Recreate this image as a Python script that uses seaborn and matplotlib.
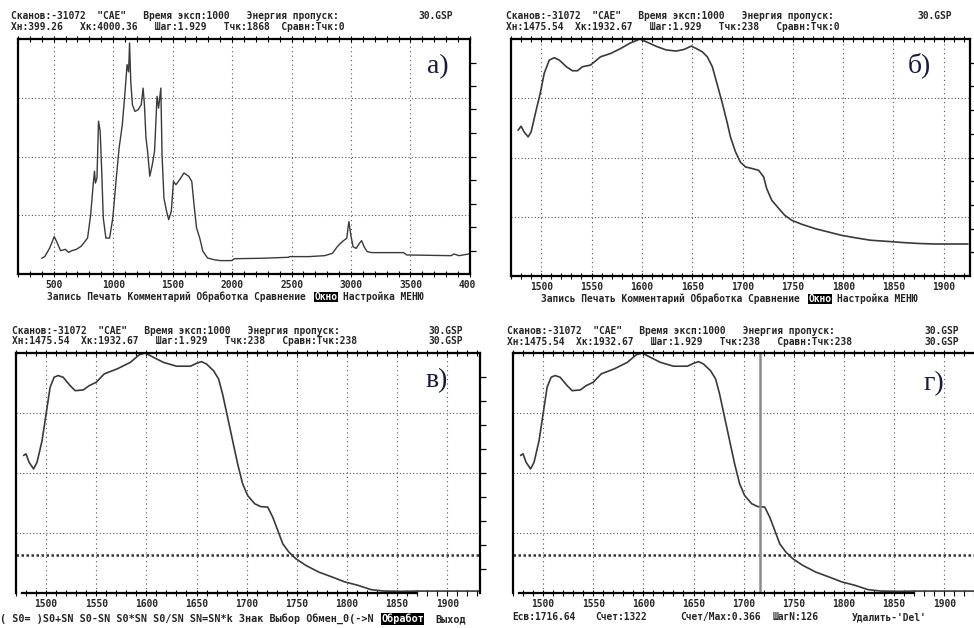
import matplotlib
matplotlib.use("Agg")
import matplotlib.pyplot as plt
import numpy as np
import seaborn as sns
from matplotlib.transforms import Bbox, TransformedBbox

# ---- data ----
# а) full survey spectrum, normalised to the window height
survey_x = [399, 425, 465, 505, 532, 558, 598, 625, 651, 691, 731, 785, 811, 832, 843, 851,
            864, 877, 891, 904, 917, 939, 970, 997, 1024, 1050, 1077, 1098, 1117, 1130, 1138,
            1148, 1162, 1183, 1210, 1236, 1252, 1263, 1276, 1290, 1308, 1329, 1348, 1369, 1382,
            1401, 1411, 1427, 1449, 1467, 1489, 1507, 1528, 1568, 1595, 1635, 1661, 1680, 1701,
            1728, 1754, 1794, 1847, 1900, 1994, 2020, 2246, 2472, 2485, 2645, 2778, 2844, 2884,
            2910, 2937, 2964, 2982, 2998, 3017, 3043, 3070, 3089, 3110, 3136, 3176, 3442, 3469,
            3841, 3867, 3907, 3987]
survey_y = [0.067, 0.074, 0.109, 0.159, 0.130, 0.099, 0.105, 0.092, 0.099, 0.105, 0.118, 0.153,
            0.252, 0.380, 0.438, 0.387, 0.408, 0.650, 0.607, 0.437, 0.238, 0.153, 0.153, 0.238,
            0.394, 0.536, 0.635, 0.763, 0.891, 0.860, 0.983, 0.820, 0.720, 0.692, 0.699, 0.720,
            0.791, 0.720, 0.579, 0.520, 0.416, 0.465, 0.522, 0.756, 0.706, 0.791, 0.508, 0.323,
            0.267, 0.231, 0.267, 0.394, 0.380, 0.408, 0.430, 0.416, 0.394, 0.295, 0.196, 0.153,
            0.097, 0.068, 0.061, 0.057, 0.057, 0.065, 0.067, 0.071, 0.074, 0.074, 0.078, 0.088,
            0.116, 0.130, 0.142, 0.152, 0.223, 0.166, 0.116, 0.109, 0.130, 0.142, 0.116, 0.095,
            0.091, 0.091, 0.081, 0.078, 0.085, 0.078, 0.085]

# б) window 1475-1933 cm-1, raw
window_x = [1477, 1480, 1483, 1487, 1490, 1495, 1499, 1503, 1508, 1513, 1518, 1525, 1531, 1536,
            1541, 1549, 1559, 1569, 1579, 1588, 1598, 1606, 1615, 1624, 1634, 1642, 1649, 1654,
            1660, 1665, 1670, 1675, 1680, 1685, 1688, 1693, 1698, 1703, 1709, 1716, 1721, 1724,
            1729, 1736, 1742, 1749, 1759, 1772, 1785, 1798, 1811, 1827, 1844, 1860, 1876, 1892,
            1909, 1924]
window_y = [0.615, 0.632, 0.608, 0.587, 0.608, 0.700, 0.770, 0.855, 0.911, 0.921, 0.911, 0.883,
            0.866, 0.866, 0.883, 0.890, 0.925, 0.939, 0.960, 0.982, 1.000, 0.985, 0.968, 0.954,
            0.949, 0.956, 0.970, 0.960, 0.946, 0.925, 0.883, 0.806, 0.728, 0.643, 0.587, 0.524,
            0.480, 0.460, 0.454, 0.446, 0.418, 0.369, 0.320, 0.285, 0.256, 0.235, 0.218, 0.200,
            0.186, 0.172, 0.162, 0.151, 0.146, 0.141, 0.137, 0.135, 0.135, 0.135]

# в), г) same window after baseline subtraction
corr_x = [1477.6, 1480, 1483, 1487.5, 1491, 1496, 1500, 1504, 1508, 1512, 1517, 1524, 1529, 1537,
          1543, 1550, 1558, 1571, 1584, 1593, 1599, 1607, 1617, 1630, 1644, 1650, 1655, 1660,
          1667, 1672, 1676, 1681, 1686, 1691, 1696, 1701, 1708, 1714, 1721, 1726, 1731, 1736,
          1742, 1749, 1759, 1772, 1785, 1798, 1811, 1824, 1837, 1854, 1870, 1887, 1903, 1933]
corr_y = [0.573, 0.580, 0.545, 0.517, 0.545, 0.635, 0.746, 0.857, 0.899, 0.906, 0.899, 0.864,
          0.843, 0.846, 0.864, 0.878, 0.913, 0.934, 0.961, 0.993, 1.000, 0.982, 0.961, 0.945,
          0.945, 0.957, 0.964, 0.954, 0.926, 0.892, 0.829, 0.732, 0.635, 0.538, 0.455, 0.406,
          0.372, 0.360, 0.358, 0.316, 0.261, 0.205, 0.171, 0.143, 0.115, 0.087, 0.067, 0.046,
          0.032, 0.014, 0.008, 0.007, 0.008, 0.008, 0.008, 0.008]

threshold = 0.157
cursor_x = 1716.64
survey_ticks = [500, 1000, 1500, 2000, 2500, 3000, 3500, 4000]
window_ticks = [1500, 1550, 1600, 1650, 1700, 1750, 1800, 1850, 1900]

W, H = 974, 628
MONO = "DejaVu Sans Mono"
FS = 6.95
CW = 5.8  # px per character of the DOS font
CURVE = "#3a3a3a"
GRID = "#555555"
LABEL_C = "#1a1a40"

sns.set_style("white")
plt.rcParams["font.family"] = [MONO, "DejaVu Sans"]

fig = plt.figure(figsize=(W / 100, H / 100), dpi=100)


def px_axes(l, t, r, b):
    return fig.add_axes([l / W, 1 - b / H, (r - l) / W, (b - t) / H])


def put(x, y, s, box=False, **kw):
    opts = dict(fontfamily=MONO, fontweight="bold", fontsize=FS, va="center", ha="left")
    if box:
        opts.update(color="white", bbox=dict(facecolor="black", edgecolor="none", pad=0.25))
    opts.update(kw)
    fig.text(x / W, 1 - y / H, s, **opts)


def draw_panel(ax, x, y, xlim, ticks, minor_step, lw=1.2):
    sns.lineplot(x=x, y=y, ax=ax, color=CURVE, lw=lw, estimator=None, sort=False)
    ax.set_xlim(xlim)
    ax.set_ylim(0, 1)
    ax.set_xticks(ticks)
    ax.set_xticks(np.arange(ticks[0] - minor_step * 3, xlim[1], minor_step), minor=True)
    ax.set_xticklabels([str(t) for t in ticks], fontfamily=MONO, fontweight="bold", fontsize=FS)
    ax.tick_params(axis="x", which="both", top=True, bottom=True, direction="inout",
                   length=4, width=0.8, pad=2, color="black")
    ax.set_yticks(np.arange(0.1, 0.95, 0.1))
    ax.yaxis.tick_right()
    ax.tick_params(axis="y", direction="out", length=4, width=0.9, labelright=False, color="black")
    ax.grid(axis="x", ls=(0, (1, 3)), color=GRID, lw=0.8)
    for g in (0.25, 0.5, 0.75):
        ax.axhline(g, ls=(0, (1, 2)), color=GRID, lw=0.8, zorder=0)
    ax.set_xlabel("")
    ax.set_ylabel("")
    for sp in ax.spines.values():
        sp.set_linewidth(1.6)
        sp.set_color("black")


# а)
ax_a = px_axes(18, 39, 470, 274)
draw_panel(ax_a, survey_x, survey_y, (399.26, 4000.36), survey_ticks, 100, lw=1.0)
clip = TransformedBbox(Bbox([[0, 0], [476 / W, 1]]), fig.transFigure)
for lbl in ax_a.get_xticklabels():
    lbl.set_clip_box(clip)
    lbl.set_clip_on(True)

# б)
ax_b = px_axes(511, 39, 970, 276)
draw_panel(ax_b, window_x, window_y, (1475.54, 1926.0), window_ticks, 10)

# в)
ax_c = px_axes(16, 353, 480, 593)
draw_panel(ax_c, corr_x, corr_y, (1475.54, 1932.67), window_ticks, 10)
ax_c.axhline(threshold, color="#333333", ls=(0, (1, 1)), lw=1.8)
ax_c.spines["bottom"].set_bounds(1475.54, 1870)

# г)
ax_d = px_axes(513, 353, 977, 593)
draw_panel(ax_d, corr_x, corr_y, (1475.54, 1932.67), window_ticks, 10)
ax_d.axhline(threshold, color="#333333", ls=(0, (1, 1)), lw=1.8)
ax_d.axvline(cursor_x, color="#8a8a8a", lw=1.8)
ax_d.spines["bottom"].set_bounds(1475.54, 1870)

# ---- screen headers ----
line1 = 'Сканов:-31072  "CAE"   Время эксп:1000   Энергия пропуск:'
put(11, 16, line1)
put(418, 16, "30.GSP")
put(11, 27, "Хн:399.26   Хк:4000.36   Шаг:1.929   Тчк:1868  Сравн:Тчк:0")

put(506, 16, line1)
put(917, 16, "30.GSP")
put(506, 27, "Хн:1475.54  Хк:1932.67   Шаг:1.929   Тчк:238   Сравн:Тчк:0")

put(12, 331, line1)
put(428, 331, "30.GSP")
put(12, 341, "Хн:1475.54  Хк:1932.67   Шаг:1.929   Тчк:238   Сравн:Тчк:238")
put(428, 341, "30.GSP")

put(507, 331, line1)
put(924, 331, "30.GSP")
put(507, 342, "Хн:1475.54  Хк:1932.67   Шаг:1.929   Тчк:238   Сравн:Тчк:238")
put(924, 342, "30.GSP")

# ---- bottom menus ----
for x0, y0 in ((47, 297), (541, 299)):
    put(x0, y0, "Запись Печать Комментарий Обработка Сравнение")
    put(x0 + 46 * CW + 1, y0, "Окно", box=True)
    put(x0 + 51 * CW, y0, "Настройка МЕНЮ")

put(0, 619, "( S0= )S0+SN S0-SN S0*SN S0/SN SN=SN*k Знак Выбор Обмен_0(->N", fontsize=7.25)
put(381, 619, "Обработ", box=True, fontsize=7.25)
put(435, 619, "Выход", fontsize=7.25)

for x0, tok in ((512, f"Есв:{cursor_x:.2f}"), (595, "Счет:1322"), (680, "Счет/Max:0.366"),
                (773, "ШагN:126"), (852, "Удалить-'Del'")):
    put(x0, 617, tok)

# ---- panel letters ----
for (x0, y0), s in (((438, 67), "а)"), ((919, 65), "б)"), ((437, 381), "в)"), ((934, 384), "г)")):
    fig.text(x0 / W, 1 - y0 / H, s, fontfamily="Liberation Serif", fontsize=20,
             color=LABEL_C, ha="center", va="center")

fig.savefig("out.png", dpi=100, facecolor="white")
